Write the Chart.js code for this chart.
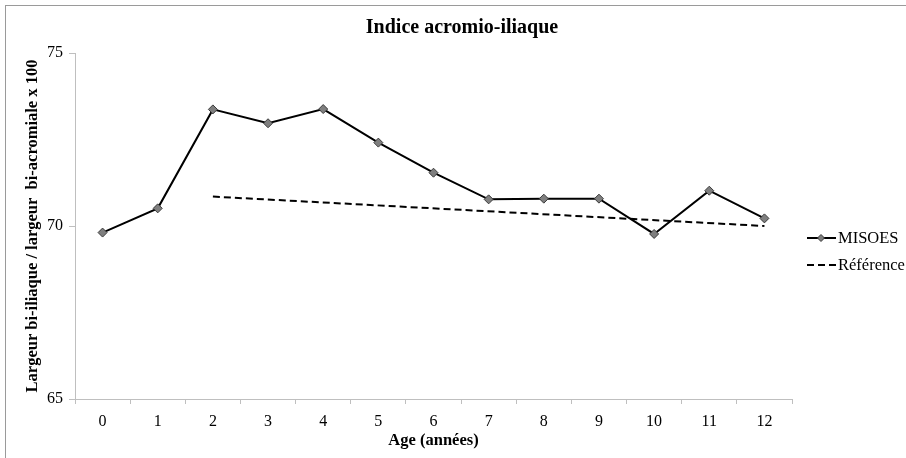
<!DOCTYPE html>
<html>
<head>
<meta charset="utf-8">
<script src="https://cdn.jsdelivr.net/npm/chart.js@4"></script>
<style>
  html, body { margin: 0; padding: 0; background: #fff; }
  #wrap { position: relative; width: 906px; height: 458px; }
</style>
</head>
<body>
<div id="wrap"><canvas id="acromio" width="906" height="458"></canvas></div>
<script>
// Data
const ages = ["0", "1", "2", "3", "4", "5", "6", "7", "8", "9", "10", "11", "12"];
const misoes = [69.81, 70.51, 73.37, 72.97, 73.38, 72.41, 71.54, 70.77, 70.79, 70.79, 69.77, 71.02, 70.22];
// Reference line: only end points known, drawn straight between them
const reference = [null, null, 70.85, null, null, null, null, null, null, null, null, null, 70.0];
const yTicks = [65, 70, 75];
const chartTitle = "Indice acromio-iliaque";

const serif = "'Liberation Serif', 'DejaVu Serif', serif";

// Title centred on the whole picture, legend on the right, frame around it all
const decorations = {
    id: "decorations",
    afterDraw(chart) {
        const ctx = chart.ctx;
        ctx.save();

        ctx.fillStyle = "#000";
        ctx.font = "bold 20px " + serif;
        ctx.textAlign = "center";
        ctx.textBaseline = "middle";
        ctx.fillText(chartTitle, 462, 28);

        const x0 = chart.chartArea.right + 15;
        const rows = [
            { text: "MISOES", ds: chart.data.datasets[0], y: 238 },
            { text: "Référence", ds: chart.data.datasets[1], y: 265 }
        ];
        rows.forEach(r => {
            ctx.strokeStyle = r.ds.borderColor;
            ctx.lineWidth = r.ds.borderWidth;
            ctx.setLineDash(r.ds.borderDash || []);
            ctx.beginPath();
            ctx.moveTo(x0, r.y);
            ctx.lineTo(x0 + 29, r.y);
            ctx.stroke();
            ctx.setLineDash([]);
            if (r.ds.pointRadius > 0) {
                const cx = x0 + 14, s = 3.5;
                ctx.beginPath();
                ctx.moveTo(cx, r.y - s);
                ctx.lineTo(cx + s, r.y);
                ctx.lineTo(cx, r.y + s);
                ctx.lineTo(cx - s, r.y);
                ctx.closePath();
                ctx.fillStyle = r.ds.pointBackgroundColor;
                ctx.fill();
                ctx.lineWidth = 1;
                ctx.strokeStyle = r.ds.pointBorderColor;
                ctx.stroke();
            }
            ctx.fillStyle = "#000";
            ctx.font = "16.5px " + serif;
            ctx.textBaseline = "middle";
            ctx.textAlign = "left";
            ctx.fillText(r.text, x0 + 31, r.y + 1);
        });

        ctx.strokeStyle = "#9a9a9a";
        ctx.lineWidth = 1;
        ctx.strokeRect(5.5, 5.5, chart.width, chart.height);
        ctx.restore();
    }
};

new Chart("acromio", {
    type: "line",
    data: {
        labels: ages,
        datasets: [{
            label: "MISOES",
            data: misoes,
            borderColor: "#000000",
            borderWidth: 2,
            pointStyle: "rectRot",
            pointRadius: 4.5,
            pointBackgroundColor: "#7f7f7f",
            pointBorderColor: "#3a3a3a",
            pointBorderWidth: 1,
            tension: 0
        }, {
            label: "Référence",
            data: reference,
            borderColor: "#000000",
            borderWidth: 2,
            borderDash: [7, 4],
            pointRadius: 0,
            spanGaps: true,
            tension: 0
        }]
    },
    options: {
        responsive: false,
        animation: false,
        layout: { padding: { left: 0, right: 114, top: 53, bottom: 0 } },
        plugins: {
            legend: { display: false },
            tooltip: { enabled: false },
            title: { display: false }
        },
        scales: {
            x: {
                offset: true,
                grid: {
                    offset: true,
                    drawOnChartArea: false,
                    drawTicks: true,
                    tickLength: 5,
                    color: "#bfbfbf"
                },
                border: { color: "#bfbfbf" },
                ticks: {
                    color: "#000",
                    padding: 8,
                    maxRotation: 0,
                    autoSkip: false,
                    font: { family: serif, size: 16 }
                },
                title: {
                    display: true,
                    text: "Age (années)",
                    color: "#000",
                    font: { family: serif, size: 16.5, weight: "bold" },
                    padding: { top: 0, bottom: 7 }
                },
                afterFit(scale) { scale.height = 59; }
            },
            y: {
                min: 65,
                max: 75,
                afterBuildTicks(scale) { scale.ticks = yTicks.map(v => ({ value: v })); },
                grid: {
                    drawOnChartArea: false,
                    drawTicks: true,
                    tickLength: 6,
                    color: "#bfbfbf"
                },
                border: { color: "#bfbfbf" },
                ticks: {
                    color: "#000",
                    padding: 6,
                    font: { family: serif, size: 16 }
                },
                title: {
                    display: true,
                    text: "Largeur bi-iliaque / largeur  bi-acromiale x 100",
                    color: "#000",
                    font: { family: serif, size: 16.5, weight: "bold" },
                    padding: { top: 23, bottom: 0 }
                },
                afterFit(scale) { scale.width = 75; }
            }
        }
    },
    plugins: [decorations]
});
</script>
</body>
</html>
